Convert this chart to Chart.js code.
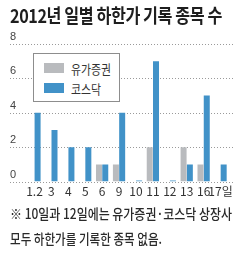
<!DOCTYPE html>
<html>
<head>
<meta charset="utf-8">
<script src="https://cdn.jsdelivr.net/npm/chart.js@4"></script>
<style>
  body { margin: 0; width: 240px; height: 263px; background: #fff; position: relative; overflow: hidden;
         font-family: "Noto Sans CJK KR", sans-serif; color: #222; }
  #chart { position: absolute; left: 0; top: 0; }
  .fit { position: absolute; white-space: nowrap; transform-origin: 0 0; }
  #title { left: 10px; top: 1px; font-size: 19px; font-weight: 700; color: #1e1e1e; letter-spacing: -0.5px; }
  #note1 { left: 10px; top: 203px; font-size: 14px; font-weight: 500; color: #2a2a2a; }
  #note2 { left: 10px; top: 228px; font-size: 14px; font-weight: 500; color: #2a2a2a; }
  #legend { position: absolute; left: 33px; top: 53px; width: 87px; height: 49px; background: #fff;
            border: 1px solid #8d8d8d; box-sizing: border-box; }
  .sw { position: absolute; left: 10px; width: 20px; height: 10px; }
  .lt { position: absolute; left: 37px; font-size: 13px; color: #333; line-height: 13px; white-space: nowrap; }
</style>
</head>
<body>
<canvas id="chart" width="240" height="204"></canvas>
<div id="title" class="fit" data-w="212">2012년 일별 하한가 기록 종목 수</div>
<div id="legend">
  <div class="sw" style="top:9px;background:#b9bbbe"></div>
  <div class="lt" data-w="40" style="top:8px">유가증권</div>
  <div class="sw" style="top:29px;background:#4192c8"></div>
  <div class="lt" data-w="30" style="top:28px">코스닥</div>
</div>
<div id="note1" class="fit" data-w="222">※ 10일과 12일에는 유가증권·코스닥 상장사</div>
<div id="note2" class="fit" data-w="152">모두 하한가를 기록한 종목 없음.</div>
<script>
const categories = ["1.2", "3", "4", "5", "6", "9", "10", "11", "12", "13", "16", "17일"];
const kospi = [0, 0, 0, 0, 1, 1, 0, 2, 0, 2, 1, 0];
const kosdaq = [4, 3, 2, 2, 1, 4, 0, 7, 0, 1, 5, 1];
const yMin = 0;
const yMax = 8;
const yStep = 2;

// squeeze text to the width it has in the picture
document.querySelectorAll("[data-w]").forEach((el) => {
  const w = el.getBoundingClientRect().width;
  el.style.transformOrigin = "0 0";
  el.style.transform = "scaleX(" + (+el.dataset.w / w) + ")";
});

// dotted grid across the whole width, under the bars
const dottedGrid = {
  id: "dottedGrid",
  beforeDatasetsDraw(chart) {
    const ctx = chart.ctx;
    const y = chart.scales.y;
    ctx.save();
    ctx.strokeStyle = "#9a9a9a";
    ctx.lineWidth = 1;
    ctx.setLineDash([1, 2]);
    y.ticks.forEach((t) => {
      const py = Math.round(y.getPixelForValue(t.value)) + 0.5;
      ctx.beginPath();
      ctx.moveTo(10, py);
      ctx.lineTo(235, py);
      ctx.stroke();
    });
    ctx.restore();
  },
};

new Chart(document.getElementById("chart"), {
  type: "bar",
  data: {
    labels: categories,
    datasets: [
      {
        label: "유가증권",
        data: kospi,
        backgroundColor: "#b9bbbe",
        borderWidth: 0,
      },
      {
        label: "코스닥",
        data: kosdaq,
        backgroundColor: "#4192c8",
        borderWidth: 0,
        minBarLength: 1,
      },
    ],
  },
  options: {
    responsive: false,
    animation: false,
    devicePixelRatio: 1,
    categoryPercentage: 0.74,
    barPercentage: 0.96,
    layout: { padding: { top: 44, left: 10, right: 11, bottom: 2 } },
    plugins: { legend: { display: false }, tooltip: { enabled: false } },
    scales: {
      x: {
        grid: { display: false, drawTicks: false, tickLength: 0 },
        border: { display: false },
        ticks: {
          padding: 3,
          color: "#333",
          maxRotation: 0,
          autoSkip: false,
          font: { family: "'Liberation Sans Narrow', 'Noto Sans CJK KR', sans-serif", size: 12 },
        },
      },
      y: {
        min: yMin,
        max: yMax,
        afterFit: (scale) => { scale.width = 16; },
        grid: { display: false },
        border: { display: false },
        ticks: {
          stepSize: yStep,
          padding: 0,
          crossAlign: "far",
          labelOffset: -7,
          color: "#444",
          font: { family: "'Liberation Sans Narrow', sans-serif", size: 11 },
        },
      },
    },
  },
  plugins: [dottedGrid],
});
</script>
</body>
</html>
